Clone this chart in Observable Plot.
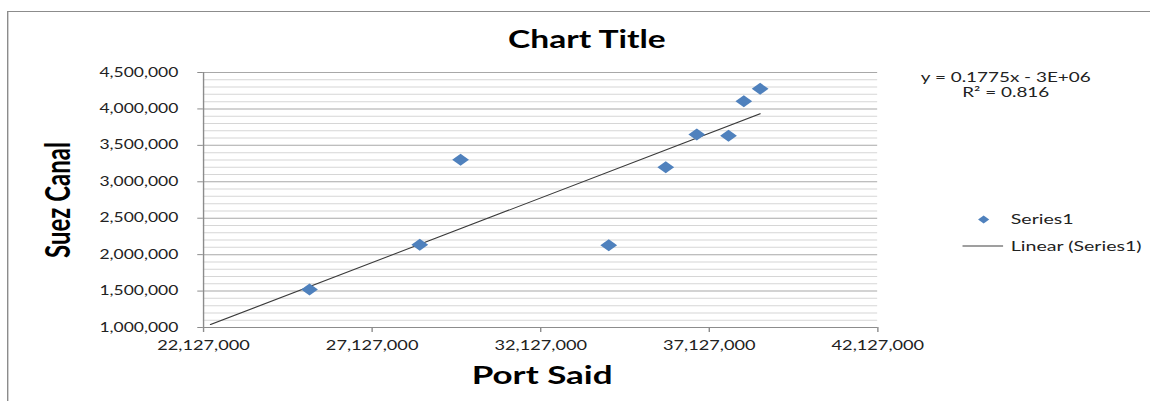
<!DOCTYPE html>
<html>
<head>
<meta charset="utf-8">
<script src="https://cdn.jsdelivr.net/npm/d3@7"></script>
<script src="https://cdn.jsdelivr.net/npm/@observablehq/plot@0.6"></script>
<style>
  html, body { margin: 0; padding: 0; background: #fff; overflow: hidden; }
  #wrap { position: absolute; left: 0; top: 0; width: 822px; height: 401px;
          transform-origin: 0 0; transform: scaleX(1.399); }
  #border { position: absolute; left: 5px; top: 11px; width: 900px; height: 500px;
            border-left: 1.6px solid #8c8c8c; border-top: 1.6px solid #8c8c8c; }
  #chart { position: absolute; left: 0; top: 0; }
  #chart svg { font-family: Lato, "Open Sans", sans-serif; }
</style>
</head>
<body>
<div id="wrap"><div id="border"></div><div id="chart"></div></div>
<script>
// Data (x: Port Said, y: Suez Canal).
// The first point lies below the 1,000,000 axis minimum and is hidden (clipped),
// as in the original; it is inferred from the trendline (y = 0.1775x - 3E+06, R² = 0.816).
const portSaid  = [22335000, 25270000, 28540000, 29750000, 34145000, 35836000, 36756000, 37697000, 38151000, 38635000];
const suezCanal = [  877000,  1520000,  2135000,  3302000,  2130000,  3200000,  3649000,  3631000,  4106000,  4276000];

const xTicks = [22127000, 27127000, 32127000, 37127000, 42127000];
const yMajor = [1000000, 1500000, 2000000, 2500000, 3000000, 3500000, 4000000, 4500000];
const yMinorStep = 100000;

const titleText = "Chart Title";
const xLabel = "Port Said";
const yLabel = "Suez Canal";
const equation = ["y = 0.1775x - 3E+06", "R² = 0.816"];
const seriesName = "Series1";
const trendName = "Linear (Series1)";

const data = portSaid.map((x, i) => ({x, y: suezCanal[i]}));
const yMinor = d3.range(yMajor[0], yMajor[yMajor.length - 1] + 1, yMinorStep).filter(v => !yMajor.includes(v));
const fmt = d3.format(",");

const blue = "#4F81BD";
const axisGray = "#8c8c8c";

const legendLine = (index, scales, values, dims) => {
  const x2 = dims.width - dims.marginRight;
  const g = d3.create("svg:line")
    .attr("x1", x2 + 61).attr("x2", x2 + 90)
    .attr("y1", dims.marginTop + 174).attr("y2", dims.marginTop + 174)
    .attr("stroke", "#404040").attr("stroke-width", 1);
  return g.node();
};

const chart = Plot.plot({
  width: 822,
  height: 401,
  marginLeft: 145,
  marginRight: 195,
  marginTop: 72,
  marginBottom: 74,
  style: {background: "transparent", fontFamily: "Lato, 'Open Sans', sans-serif"},
  x: {domain: [xTicks[0], xTicks[xTicks.length - 1]]},
  y: {domain: [yMajor[0], yMajor[yMajor.length - 1]]},
  marks: [
    Plot.gridY(yMinor, {stroke: "#d6d6d6", strokeOpacity: 1, strokeWidth: 1}),
    Plot.gridY(yMajor, {stroke: "#a8a8a8", strokeOpacity: 1, strokeWidth: 1}),
    Plot.ruleX([xTicks[0]], {stroke: axisGray, strokeWidth: 1}),
    Plot.ruleY([yMajor[0]], {stroke: axisGray, strokeWidth: 1}),
    Plot.axisY(yMajor, {tickFormat: fmt, tickSize: 4, tickPadding: 14, fontSize: 12.5, stroke: axisGray, color: "#222", label: null}),
    Plot.axisX(xTicks, {tickFormat: fmt, tickSize: 5, tickPadding: 8, fontSize: 13, stroke: axisGray, color: "#222", label: null}),
    Plot.linearRegressionY(data, {x: "x", y: "y", ci: 0, stroke: "#3a3a3a", strokeWidth: 1, clip: true}),
    Plot.dot(data, {x: "x", y: "y", symbol: "diamond2", r: 5.4, fill: blue, stroke: "none", clip: true}),
    // Title and axis titles
    Plot.text([titleText], {frameAnchor: "top-left", dx: 274, dy: -25, lineAnchor: "bottom", textAnchor: "middle", fontSize: 24, fontWeight: "bold", fill: "#000"}),
    Plot.text([xLabel], {frameAnchor: "bottom", dx: 1, dy: 56, lineAnchor: "bottom", textAnchor: "middle", fontSize: 25, fontWeight: "bold", fill: "#000"}),
    Plot.text([yLabel], {frameAnchor: "left", dx: -103.5, rotate: -90, lineAnchor: "middle", textAnchor: "middle", fontSize: 24, fontWeight: "bold", fill: "#000"}),
    // Trendline equation
    Plot.text([equation[0]], {frameAnchor: "top-right", dx: 91.4, dy: 9, lineAnchor: "bottom", textAnchor: "middle", fontSize: 13.5, fill: "#222"}),
    Plot.text([equation[1]], {frameAnchor: "top-right", dx: 91.4, dy: 24, lineAnchor: "bottom", textAnchor: "middle", fontSize: 13.5, fill: "#222"}),
    // Legend
    Plot.dot([seriesName], {frameAnchor: "top-right", dx: 75.6, dy: 147, symbol: "diamond2", r: 3.6, fill: blue, stroke: "none"}),
    Plot.text([seriesName], {frameAnchor: "top-right", dx: 95, dy: 147, lineAnchor: "middle", textAnchor: "start", fontSize: 14, fill: "#222"}),
    legendLine,
    Plot.text([trendName], {frameAnchor: "top-right", dx: 95, dy: 174, lineAnchor: "middle", textAnchor: "start", fontSize: 14, fill: "#222"})
  ]
});
document.getElementById("chart").appendChild(chart);
</script>
</body>
</html>
